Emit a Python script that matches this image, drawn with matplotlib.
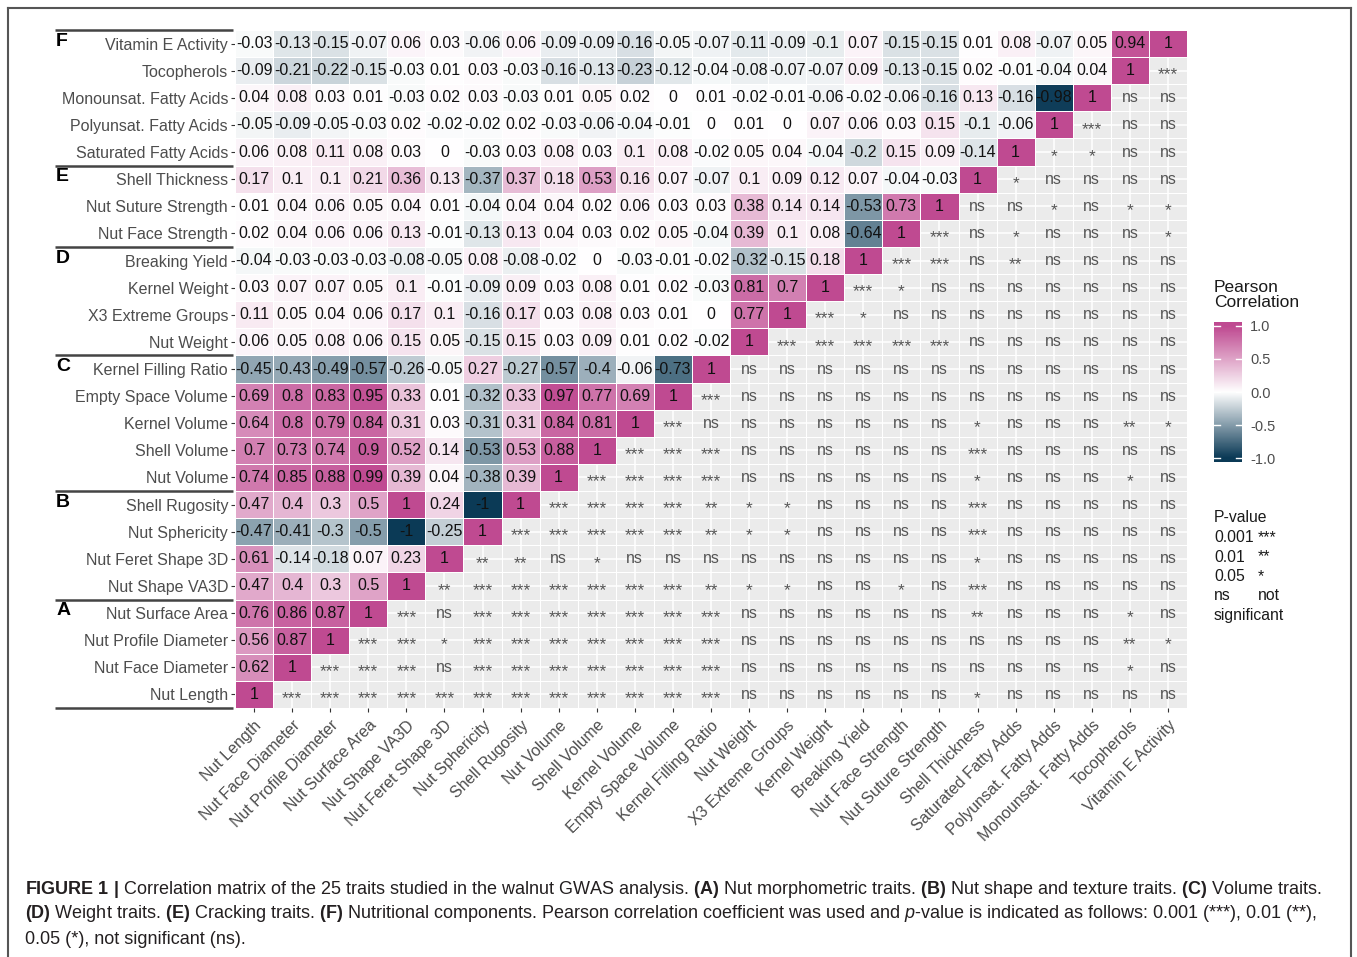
import numpy as np
import matplotlib.pyplot as plt
from matplotlib.colors import LinearSegmentedColormap
from matplotlib.lines import Line2D

plt.rcParams['font.family'] = ['Liberation Sans', 'DejaVu Sans']
plt.rcParams['mathtext.fontset'] = 'custom'
plt.rcParams['mathtext.rm'] = 'Liberation Sans'
plt.rcParams['mathtext.bf'] = 'Liberation Sans:bold'
plt.rcParams['mathtext.it'] = 'Liberation Sans:italic'

# Traits, bottom row / left column first
traits = ["Nut Length", "Nut Face Diameter", "Nut Profile Diameter", "Nut Surface Area",
          "Nut Shape VA3D", "Nut Feret Shape 3D", "Nut Sphericity", "Shell Rugosity",
          "Nut Volume", "Shell Volume", "Kernel Volume", "Empty Space Volume",
          "Kernel Filling Ratio", "Nut Weight", "X3 Extreme Groups", "Kernel Weight",
          "Breaking Yield", "Nut Face Strength", "Nut Suture Strength", "Shell Thickness",
          "Saturated Fatty Acids", "Polyunsat. Fatty Acids", "Monounsat. Fatty Acids",
          "Tocopherols", "Vitamin E Activity"]

xlabels = traits[:20] + ["Saturated Fatty Adds", "Polyunsat. Fatty Adds",
                         "Monounsat. Fatty Adds", "Tocopherols", "Vitamin E Activity"]

# Pearson r: row i holds correlations with traits 0..i-1
corr_rows = [
    [],
    [0.62],
    [0.56, 0.87],
    [0.76, 0.86, 0.87],
    [0.47, 0.4, 0.3, 0.5],
    [0.61, -0.14, -0.18, 0.07, 0.23],
    [-0.47, -0.41, -0.3, -0.5, -1, -0.25],
    [0.47, 0.4, 0.3, 0.5, 1, 0.24, -1],
    [0.74, 0.85, 0.88, 0.99, 0.39, 0.04, -0.38, 0.39],
    [0.7, 0.73, 0.74, 0.9, 0.52, 0.14, -0.53, 0.53, 0.88],
    [0.64, 0.8, 0.79, 0.84, 0.31, 0.03, -0.31, 0.31, 0.84, 0.81],
    [0.69, 0.8, 0.83, 0.95, 0.33, 0.01, -0.32, 0.33, 0.97, 0.77, 0.69],
    [-0.45, -0.43, -0.49, -0.57, -0.26, -0.05, 0.27, -0.27, -0.57, -0.4, -0.06, -0.73],
    [0.06, 0.05, 0.08, 0.06, 0.15, 0.05, -0.15, 0.15, 0.03, 0.09, 0.01, 0.02, -0.02],
    [0.11, 0.05, 0.04, 0.06, 0.17, 0.1, -0.16, 0.17, 0.03, 0.08, 0.03, 0.01, 0, 0.77],
    [0.03, 0.07, 0.07, 0.05, 0.1, -0.01, -0.09, 0.09, 0.03, 0.08, 0.01, 0.02, -0.03, 0.81, 0.7],
    [-0.04, -0.03, -0.03, -0.03, -0.08, -0.05, 0.08, -0.08, -0.02, 0, -0.03, -0.01, -0.02,
     -0.32, -0.15, 0.18],
    [0.02, 0.04, 0.06, 0.06, 0.13, -0.01, -0.13, 0.13, 0.04, 0.03, 0.02, 0.05, -0.04,
     0.39, 0.1, 0.08, -0.64],
    [0.01, 0.04, 0.06, 0.05, 0.04, 0.01, -0.04, 0.04, 0.04, 0.02, 0.06, 0.03, 0.03,
     0.38, 0.14, 0.14, -0.53, 0.73],
    [0.17, 0.1, 0.1, 0.21, 0.36, 0.13, -0.37, 0.37, 0.18, 0.53, 0.16, 0.07, -0.07,
     0.1, 0.09, 0.12, 0.07, -0.04, -0.03],
    [0.06, 0.08, 0.11, 0.08, 0.03, 0, -0.03, 0.03, 0.08, 0.03, 0.1, 0.08, -0.02,
     0.05, 0.04, -0.04, -0.2, 0.15, 0.09, -0.14],
    [-0.05, -0.09, -0.05, -0.03, 0.02, -0.02, -0.02, 0.02, -0.03, -0.06, -0.04, -0.01, 0,
     0.01, 0, 0.07, 0.06, 0.03, 0.15, -0.1, -0.06],
    [0.04, 0.08, 0.03, 0.01, -0.03, 0.02, 0.03, -0.03, 0.01, 0.05, 0.02, 0, 0.01,
     -0.02, -0.01, -0.06, -0.02, -0.06, -0.16, 0.13, -0.16, -0.98],
    [-0.09, -0.21, -0.22, -0.15, -0.03, 0.01, 0.03, -0.03, -0.16, -0.13, -0.23, -0.12, -0.04,
     -0.08, -0.07, -0.07, 0.09, -0.13, -0.15, 0.02, -0.01, -0.04, 0.04],
    [-0.03, -0.13, -0.15, -0.07, 0.06, 0.03, -0.06, 0.06, -0.09, -0.09, -0.16, -0.05, -0.07,
     -0.11, -0.09, -0.1, 0.07, -0.15, -0.15, 0.01, 0.08, -0.07, 0.05, 0.94],
]

# significance: row i holds p-value codes for traits i+1..24
S3, S2, S1, NS = "***", "**", "*", "ns"
p_rows = [
    [S3] * 12 + [NS] * 6 + [S1] + [NS] * 5,
    [S3] * 3 + [NS] + [S3] * 7 + [NS] * 10 + [S1, NS],
    [S3, S3, S1] + [S3] * 7 + [NS] * 10 + [S2, S1],
    [S3, NS] + [S3] * 7 + [NS] * 6 + [S2] + [NS] * 3 + [S1, NS],
    [S2] + [S3] * 6 + [S2, S1, S1, NS, NS, S1, NS, S3] + [NS] * 5,
    [S2, S2, NS, S1] + [NS] * 9 + [S1] + [NS] * 5,
    [S3] * 5 + [S2, S1, S1] + [NS] * 4 + [S3] + [NS] * 5,
    [S3] * 4 + [S2, S1, S1] + [NS] * 4 + [S3] + [NS] * 5,
    [S3] * 4 + [NS] * 6 + [S1] + [NS] * 3 + [S1, NS],
    [S3] * 3 + [NS] * 6 + [S3] + [NS] * 5,
    [S3] + [NS] * 7 + [S1] + [NS] * 3 + [S2, S1],
    [S3] + [NS] * 12,
    [NS] * 12,
    [S3] * 5 + [NS] * 6,
    [S3, S1] + [NS] * 8,
    [S3, S1] + [NS] * 7,
    [S3, S3, NS, S2, NS, NS, NS, NS],
    [S3, NS, S1, NS, NS, NS, S1],
    [NS, NS, S1, NS, S1, S1],
    [S1, NS, NS, NS, NS],
    [S1, S1, NS, NS],
    [S3, NS, NS],
    [NS, NS],
    [S3],
]

group_letters = ["F", "E", "D", "C", "B", "A"]
group_tops = [24, 19, 16, 12, 7, 3]
group_edges = [24.5, 19.5, 16.5, 12.5, 7.5, 3.5, -0.5]

caption = [
    r"$\mathbf{FIGURE\ 1\ |}$ Correlation matrix of the 25 traits studied in the walnut GWAS analysis. "
    r"$\mathbf{(A)}$ Nut morphometric traits. $\mathbf{(B)}$ Nut shape and texture traits. "
    r"$\mathbf{(C)}$ Volume traits.",
    r"$\mathbf{(D)}$ Weight traits. $\mathbf{(E)}$ Cracking traits. $\mathbf{(F)}$ Nutritional components. "
    r"Pearson correlation coefficient was used and $\mathit{p}$-value is indicated as follows: "
    r"0.001 (***), 0.01 (**),",
    "0.05 (*), not significant (ns).",
]

n = len(traits)
mat = np.full((n, n), np.nan)
for i, row in enumerate(corr_rows):
    for j, v in enumerate(row):
        mat[i, j] = v
    mat[i, i] = 1

cmap = LinearSegmentedColormap.from_list("pc", ["#0B3A56", "#FFFFFF", "#BF4A91"])

W, H = 1357, 957
fig = plt.figure(figsize=(W / 100, H / 100), dpi=100)

# outer frame
fig.add_artist(Line2D([8 / W, 8 / W], [0, 1 - 8 / H], color="#555555", lw=1.5))
fig.add_artist(Line2D([1351 / W, 1351 / W], [0, 1 - 8 / H], color="#555555", lw=1.5))
fig.add_artist(Line2D([8 / W, 1351 / W], [1 - 8 / H, 1 - 8 / H], color="#555555", lw=1.5))

ax = fig.add_axes([235 / W, 1 - 708 / H, 952 / W, 678 / H])
ax.set_facecolor("#EBEBEB")
ax.set_axisbelow(True)
ax.grid(color="white", lw=1.1)
for s in ax.spines.values():
    s.set_visible(False)

edges = np.arange(n + 1) - 0.5
ax.pcolormesh(edges, edges, np.ma.masked_invalid(mat), cmap=cmap, vmin=-1, vmax=1,
              edgecolors="white", linewidth=0.7)

for i in range(n):
    for j in range(n):
        if j <= i:
            ax.text(j, i, f"{mat[i, j]:g}", ha="center", va="center", fontsize=11.5, color="#111111")
        else:
            code = p_rows[i][j - i - 1]
            if code == NS:
                ax.text(j, i, code, ha="center", va="center", fontsize=11.5, color="#555555")
            else:
                ax.text(j, i - 0.16, code, ha="center", va="center", fontsize=12.5, color="#555555")

ax.set_xlim(-0.5, n - 0.5)
ax.set_ylim(-0.5, n - 0.5)
ax.set_xticks(range(n))
ax.set_yticks(range(n))
ax.set_xticklabels(xlabels, rotation=45, ha="right", rotation_mode="anchor")
ax.set_yticklabels(traits)
ax.tick_params(axis="both", length=3, width=0.8, color="#333333", labelsize=11.5,
               labelcolor="#4D4D4D", pad=2)
ax.tick_params(axis="x", pad=4)

# group separators and letters
tr = ax.get_yaxis_transform()
for yb in group_edges:
    ax.plot([-0.189, -0.002], [yb, yb], transform=tr, color="#444444", lw=1.8,
            clip_on=False, solid_capstyle="butt")
for letter, yt in zip(group_letters, group_tops):
    ax.text(-0.188, yt + 0.08, letter, transform=tr, fontsize=14, weight="bold",
            ha="left", va="center", color="black")

# colour legend
cax = fig.add_axes([1214 / W, 1 - 462 / H, 28 / W, 140 / H])
lim = 1.06
grad = np.clip(np.linspace(-lim, lim, 300), -1, 1).reshape(-1, 1)
cax.imshow(grad, cmap=cmap, vmin=-1, vmax=1, aspect="auto", origin="lower",
           extent=[0, 1, -lim, lim])
cax.set_xlim(0, 1)
cax.set_ylim(-lim, lim)
for s in cax.spines.values():
    s.set_visible(False)
cax.set_xticks([])
cax.yaxis.tick_right()
cax.set_yticks([-1, -0.5, 0, 0.5, 1])
cax.set_yticklabels(["-1.0", "-0.5", "0.0", "0.5", "1.0"])
cax.tick_params(axis="y", length=0, pad=6, labelsize=10.5, labelcolor="#4D4D4D")
for t in [-1, -0.5, 0, 0.5, 1]:
    cax.plot([0, 0.2], [t, t], color="white", lw=1)
    cax.plot([0.8, 1], [t, t], color="white", lw=1)

fig.text(1214 / W, 1 - 280 / H, "Pearson\nCorrelation", ha="left", va="top",
         fontsize=12.5, color="#1A1A1A", linespacing=1.0)

pv_left = ["P-value", "0.001", "0.01", "0.05", "ns", "significant"]
pv_right = ["", "***", "**", "*", "not", ""]
for k, (a, b) in enumerate(zip(pv_left, pv_right)):
    y = 1 - (518 + 19.5 * k) / H
    fig.text(1214 / W, y, a, ha="left", va="center", fontsize=11.3, color="#1A1A1A")
    if b:
        fig.text(1258 / W, y, b, ha="left", va="center", fontsize=11.3, color="#1A1A1A")

for k, line in enumerate(caption):
    fig.text(25 / W, 1 - (889 + 25 * k) / H, line, ha="left", va="center",
             fontsize=13, color="#231F20")

fig.savefig("out.png", dpi=100)
